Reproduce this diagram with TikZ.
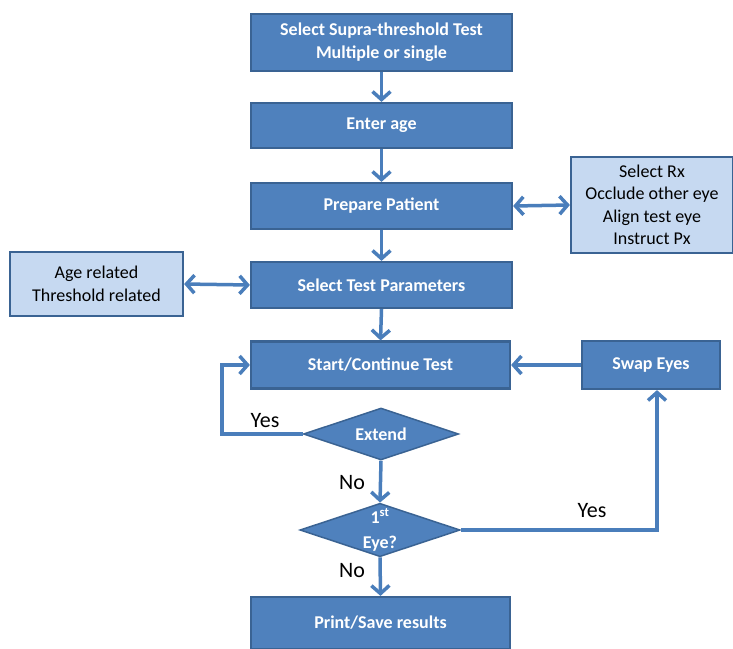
\documentclass[tikz,border=0pt]{standalone}
\usepackage{fontspec}
\setmainfont{Carlito}
\usetikzlibrary{arrows.meta,shapes.geometric}
\definecolor{dk}{HTML}{4F81BD}
\definecolor{dkb}{HTML}{3A6393}
\definecolor{lt}{HTML}{C6D9F1}
\definecolor{ar}{HTML}{4A7EBB}
\tikzset{
  mainbox/.style={rectangle, draw=dkb, line width=2.2pt, fill=dk, text=white, font=\bfseries\fontsize{18}{23}\selectfont, inner sep=0pt, align=center},
  sidebox/.style={rectangle, draw=dkb, line width=2.2pt, fill=lt, text=black, font=\fontsize{18}{22.5}\selectfont, inner sep=0pt, align=center},
  decis/.style={diamond, draw=dkb, line width=1.5pt, fill=dk, text=white, font=\bfseries\fontsize{18}{25}\selectfont, inner sep=0pt, aspect=3, align=center},
  flow/.style={draw=ar, line width=3.5pt, -{Straight Barb[length=8pt,width=18pt,line width=3.5pt]}},
  dflow/.style={draw=ar, line width=3.5pt, {Straight Barb[length=8pt,width=18pt,line width=3.5pt]}-{Straight Barb[length=8pt,width=18pt,line width=3.5pt]}},
  lbl/.style={font=\fontsize{22}{24}\selectfont, text=black, inner sep=0pt}
}
\begin{document}
\begin{tikzpicture}[x=1pt,y=-1pt]
\useasboundingbox (0,0) rectangle (733,648);
\node[mainbox, minimum width=261, minimum height=57] (sel) at (381.5,42.5) {Select Supra-threshold Test\\Multiple or single};
\node[mainbox, minimum width=261, minimum height=45] (age) at (381.5,125.5) {Enter age};
\node[mainbox, minimum width=261, minimum height=46] (prep) at (381.5,206) {Prepare Patient};
\node[mainbox, minimum width=261, minimum height=46] (par) at (381.5,285) {Select Test Parameters};
\node[mainbox, minimum width=259, minimum height=47] (start) at (380.5,365) {Start/Continue Test};
\node[mainbox, minimum width=138, minimum height=48] (swap) at (651,365) {Swap Eyes};
\node[mainbox, minimum width=259, minimum height=52] (print) at (380.5,623) {Print/Save results};
\node[sidebox, minimum width=162, minimum height=96] (rx) at (652,205) {Select Rx\\Occlude other eye\\Align test eye\\Instruct Px};
\node[sidebox, minimum width=173, minimum height=64] (agerel) at (96.5,284) {Age related\\Threshold related};
\node[decis, minimum width=155, minimum height=52] (ext) at (381,434) {Extend};
\node[decis, minimum width=157, minimum height=53] (eye) at (380,530) {1\textsuperscript{st}\\Eye?};
\draw[flow] (sel.south) -- (age.north);
\draw[flow] (age.south) -- (prep.north);
\draw[flow] (prep.south) -- (par.north);
\draw[flow] (par.south) -- (start.north);
\draw[flow] (ext.south) -- (eye.north);
\draw[flow] (eye.south) -- (print.north);
\draw[flow] (swap.west) -- (start.east);
\draw[dflow] (prep.east) -- (rx.west);
\draw[dflow] (agerel.east) -- (par.west);
\coordinate (lc) at (222,434);
\draw[flow] (ext.west) -- (lc) |- (start.west);
\coordinate (rc) at (657,530);
\draw[flow] (eye.east) -- (rc) -- (rc |- swap.south);
\node[lbl] (y1) at (265,421) {Yes};
\node[lbl] (n1) at (352,483) {No};
\node[lbl] (n2) at (352,571) {No};
\node[lbl] (y2) at (592,511) {Yes};
\end{tikzpicture}
\end{document}
